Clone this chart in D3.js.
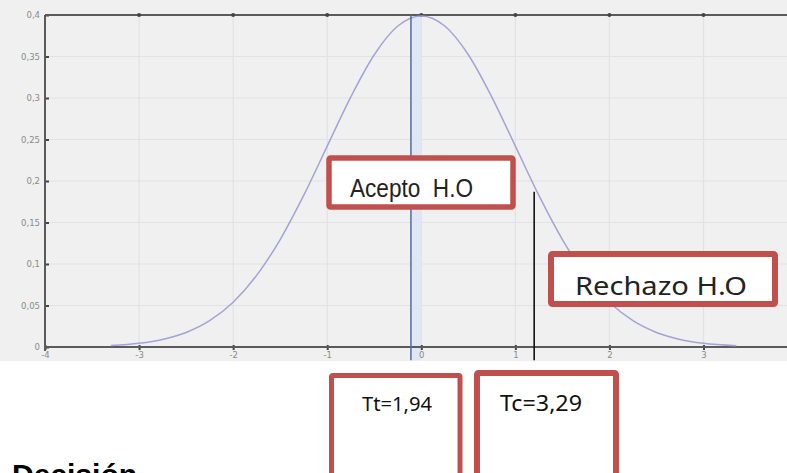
<!DOCTYPE html>
<html>
<head>
<meta charset="utf-8">
<script src="https://cdn.jsdelivr.net/npm/d3@7"></script>
<style>
  html, body { margin: 0; padding: 0; background: #ffffff; }
  svg { display: block; }
</style>
</head>
<body>
<svg id="chart" width="787" height="473"></svg>
<script>
// Standard normal density, sampled points (z, f(z))
const curveX = [-3.3, -3.0, -2.75, -2.5, -2.25, -2.0, -1.75, -1.5, -1.25, -1.0, -0.75, -0.5, -0.25, 0,
                0.25, 0.5, 0.75, 1.0, 1.25, 1.5, 1.75, 2.0, 2.25, 2.5, 2.75, 3.0, 3.35];
const curveY = [0.0017, 0.0044, 0.0091, 0.0175, 0.0317, 0.054, 0.0863, 0.1295, 0.1826, 0.242, 0.3011, 0.3521, 0.3867, 0.3989,
                0.3867, 0.3521, 0.3011, 0.242, 0.1826, 0.1295, 0.0863, 0.054, 0.0317, 0.0175, 0.0091, 0.0044, 0.0015];

const xTicks = [-4, -3, -2, -1, 0, 1, 2, 3];
const yTicks = [0, 0.05, 0.1, 0.15, 0.2, 0.25, 0.3, 0.35, 0.4];
const yTickLabels = ["0", "0,05", "0,1", "0,15", "0,2", "0,25", "0,3", "0,35", "0,4"];

// Reference lines: mean marker and critical value marker
const meanLine = { x: -0.11, top: 0.4, bottom: -0.016 };
const criticalLine = { x: 1.2, top: 0.187, bottom: -0.016 };

// Text boxes
const regionLabels = ["Acepto  H.O", "Rechazo H.O"];
const statLabels = ["Tt=1,94", "Tc=3,29"];
const decisionTitle = "Decisión";

const svg = d3.select("#chart");
const W = 787, H = 473;

const x = d3.scaleLinear().domain([-4, 3]).range([45, 703.5]);
const y = d3.scaleLinear().domain([0, 0.4]).range([347, 15]);

// Plot window background
svg.append("rect").attr("x", 0).attr("y", 0).attr("width", W).attr("height", 361).attr("fill", "#f0f0f0");

const plot = svg.append("g");
plot.append("clipPath").attr("id", "clipPlot")
  .append("rect").attr("x", 0).attr("y", 0).attr("width", W).attr("height", 361);
plot.attr("clip-path", "url(#clipPlot)");

// Grid
const xGrid = d3.range(-4, 3.51, 1);
plot.append("g").selectAll("line").data(xGrid).join("line")
  .attr("x1", d => x(d)).attr("x2", d => x(d))
  .attr("y1", y(0.4)).attr("y2", y(0))
  .attr("stroke", "#e2e2e2").attr("stroke-width", 1.2);
plot.append("g").selectAll("line").data(yTicks).join("line")
  .attr("x1", x(-4)).attr("x2", W)
  .attr("y1", d => y(d)).attr("y2", d => y(d))
  .attr("stroke", "#e2e2e2").attr("stroke-width", 1.2);

// Light band next to the mean marker
plot.append("rect")
  .attr("x", x(meanLine.x)).attr("y", y(0.4))
  .attr("width", x(0) - x(meanLine.x)).attr("height", y(meanLine.bottom) - y(0.4))
  .attr("fill", "#dfe7f3");

// Axes
const xAxis = d3.axisBottom(x).tickValues(xTicks).tickSize(3).tickFormat(d => d);
const gx = plot.append("g").attr("transform", `translate(0,${y(0)})`).call(xAxis);
gx.select(".domain").remove();
gx.selectAll(".tick line").attr("stroke", "#444").attr("stroke-width", 2).attr("y1", -2);
gx.selectAll(".tick text").attr("fill", "#8a8a8a").attr("font-size", 8.5).attr("font-family", "DejaVu Sans").attr("dy", "0.55em");

const yAxis = d3.axisLeft(y).tickValues(yTicks).tickSize(-4).tickFormat((d, i) => yTickLabels[i]);
const gy = plot.append("g").attr("transform", `translate(${x(-4)},0)`).call(yAxis);
gy.select(".domain").remove();
gy.selectAll(".tick line").attr("stroke", "#444").attr("stroke-width", 2);
gy.selectAll(".tick text").attr("fill", "#8a8a8a").attr("font-size", 8.5).attr("font-family", "DejaVu Sans").attr("x", -5);

// Frame lines: left, bottom, top
plot.append("line").attr("x1", x(-4)).attr("x2", W).attr("y1", y(0)).attr("y2", y(0))
  .attr("stroke", "#5a5a5a").attr("stroke-width", 2);
plot.append("line").attr("x1", x(-4)).attr("x2", W).attr("y1", y(0.4)).attr("y2", y(0.4))
  .attr("stroke", "#5a5a5a").attr("stroke-width", 2);
plot.append("line").attr("x1", x(-4)).attr("x2", x(-4)).attr("y1", y(0.4)).attr("y2", y(0) + 4)
  .attr("stroke", "#5a5a5a").attr("stroke-width", 2);
// tick dots on the top frame
plot.append("g").selectAll("circle").data(xTicks.slice(1)).join("circle")
  .attr("cx", d => x(d)).attr("cy", y(0.4)).attr("r", 2).attr("fill", "#444");

// Density curve
const pts = curveX.map((d, i) => [d, curveY[i]]);
plot.append("path").datum(pts)
  .attr("fill", "none").attr("stroke", "#a3a3d6").attr("stroke-width", 1.5)
  .attr("d", d3.line().x(d => x(d[0])).y(d => y(d[1])).curve(d3.curveMonotoneX));

// Mean marker
plot.append("line")
  .attr("x1", x(meanLine.x)).attr("x2", x(meanLine.x))
  .attr("y1", y(meanLine.top)).attr("y2", y(meanLine.bottom))
  .attr("stroke", "#4f6f9c").attr("stroke-width", 1.5);

// Critical value marker
plot.append("line")
  .attr("x1", x(criticalLine.x)).attr("x2", x(criticalLine.x))
  .attr("y1", y(criticalLine.top)).attr("y2", y(criticalLine.bottom))
  .attr("stroke", "#111").attr("stroke-width", 1.6);

// Red-bordered label boxes
const red = "#c0504d";
function box(x0, y0, w, h, sw) {
  svg.append("rect").attr("x", x0).attr("y", y0).attr("width", w).attr("height", h)
    .attr("fill", "#ffffff").attr("stroke", red).attr("stroke-width", sw).attr("rx", 1.5);
}
function label(str, tx, ty, size, len, family, color) {
  svg.append("text").attr("x", tx).attr("y", ty).text(str)
    .attr("font-family", family).attr("font-size", size)
    .attr("fill", color).attr("textLength", len).attr("lengthAdjust", "spacingAndGlyphs")
    .style("white-space", "pre");
}

box(329, 158, 184, 49, 5.5);
label(regionLabels[0], 350, 197, 25, 123, "Liberation Sans Narrow, Liberation Sans, Arial, sans-serif", "#222");

box(551, 254, 224, 50, 6);
label(regionLabels[1], 575, 295, 25, 172, "Noto Sans, Open Sans, sans-serif", "#222");

// Statistic boxes (run off the bottom edge)
box(331.5, 375.5, 128.5, 130, 5);
label(statLabels[0], 362, 411, 20, 70, "Noto Sans, Open Sans, sans-serif", "#111");
box(477, 373, 139, 130, 6);
label(statLabels[1], 500, 411, 22, 82, "Noto Sans, Open Sans, sans-serif", "#111");

// Section heading, partly below the fold
svg.append("text").attr("x", 12).attr("y", 485).text(decisionTitle)
  .attr("font-family", "Liberation Sans, Arial, sans-serif").attr("font-size", 30)
  .attr("font-weight", "bold").attr("fill", "#000");
</script>
</body>
</html>
